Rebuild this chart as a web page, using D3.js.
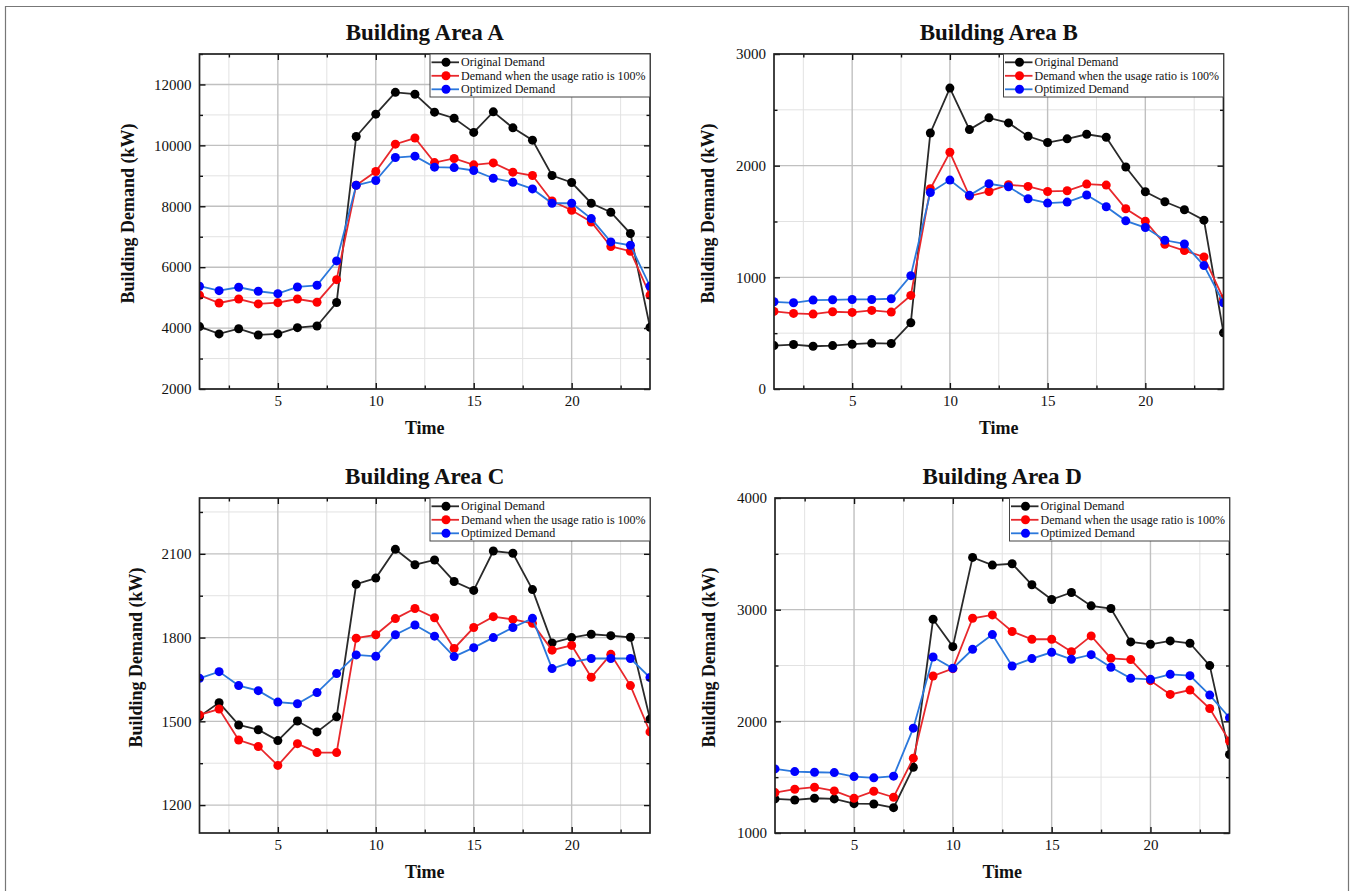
<!DOCTYPE html>
<html>
<head>
<meta charset="utf-8">
<script src="https://d3js.org/d3.v7.min.js"></script>
<style>
  body { margin: 0; background: #fff; }
  svg text { font-family: "Times New Roman", "Liberation Serif", serif; fill: #111; }
  .title { font-size: 23px; font-weight: bold; }
  .axisLabel { font-size: 18px; font-weight: bold; }
  .tick text { font-size: 15px; }
  .legendText { font-size: 12px; }
</style>
</head>
<body>
<script>
// hours on the x axis
var hours = [1,2,3,4,5,6,7,8,9,10,11,12,13,14,15,16,17,18,19,20,21,22,23,24];
var xMajorTicks = [5, 10, 15, 20];
var xMinorTicks = [2.5, 7.5, 12.5, 17.5, 22.5];

var seriesNames = ["Original Demand", "Demand when the usage ratio is 100%", "Optimized Demand"];

// Building Area A
var areaA_original = [4050, 3810, 3980, 3775, 3810, 4015, 4070, 4840, 10290, 11025, 11740, 11680, 11090, 10890, 10425, 11100, 10575, 10170, 9010, 8780, 8100, 7805, 7105, 4025];
var areaA_full     = [5080, 4825, 4955, 4795, 4835, 4955, 4850, 5590, 8690, 9140, 10040, 10240, 9435, 9570, 9360, 9425, 9120, 9010, 8175, 7870, 7485, 6680, 6525, 5080];
var areaA_opt      = [5375, 5230, 5340, 5210, 5130, 5350, 5405, 6205, 8690, 8845, 9600, 9645, 9285, 9270, 9175, 8920, 8790, 8570, 8100, 8100, 7595, 6830, 6720, 5375];
var areaA_yMajor = [2000, 4000, 6000, 8000, 10000, 12000];
var areaA_yMinor = [3000, 5000, 7000, 9000, 11000, 13000];

// Building Area B
var areaB_original = [389, 398, 383, 389, 401, 410, 407, 593, 2293, 2695, 2323, 2428, 2383, 2263, 2207, 2240, 2281, 2254, 1988, 1766, 1677, 1605, 1512, 503];
var areaB_full     = [695, 677, 671, 692, 686, 704, 689, 838, 1793, 2120, 1728, 1769, 1829, 1814, 1769, 1775, 1835, 1826, 1614, 1503, 1296, 1240, 1183, 808];
var areaB_opt      = [781, 772, 796, 799, 802, 802, 808, 1015, 1760, 1871, 1734, 1838, 1811, 1704, 1665, 1674, 1737, 1632, 1506, 1446, 1332, 1299, 1105, 772];
var areaB_yMajor = [0, 1000, 2000, 3000];
var areaB_yMinor = [500, 1500, 2500];

// Building Area C
var areaC_original = [1517, 1567, 1487, 1470, 1431, 1501, 1462, 1516, 1991, 2013, 2116, 2061, 2078, 2001, 1969, 2110, 2102, 1972, 1781, 1800, 1812, 1807, 1801, 1508];
var areaC_full     = [1523, 1544, 1433, 1410, 1342, 1420, 1388, 1388, 1798, 1810, 1868, 1904, 1871, 1761, 1836, 1875, 1865, 1851, 1755, 1772, 1658, 1740, 1628, 1462];
var areaC_opt      = [1654, 1678, 1628, 1610, 1569, 1563, 1603, 1671, 1738, 1733, 1810, 1845, 1805, 1732, 1764, 1800, 1836, 1869, 1689, 1712, 1725, 1725, 1725, 1657];
var areaC_yMajor = [1200, 1500, 1800, 2100];
var areaC_yMinor = [1350, 1650, 1950, 2250];

// Building Area D
var areaD_original = [1305, 1296, 1311, 1305, 1263, 1260, 1227, 1589, 2914, 2669, 3468, 3399, 3411, 3223, 3091, 3154, 3034, 3010, 2711, 2690, 2720, 2699, 2499, 1703];
var areaD_full     = [1362, 1392, 1410, 1377, 1311, 1374, 1320, 1670, 2406, 2472, 2923, 2953, 2804, 2735, 2735, 2624, 2765, 2564, 2553, 2364, 2241, 2280, 2115, 1823];
var areaD_opt      = [1574, 1550, 1544, 1541, 1505, 1494, 1509, 1939, 2576, 2475, 2645, 2777, 2496, 2562, 2618, 2555, 2597, 2484, 2385, 2376, 2421, 2409, 2235, 2032];
var areaD_yMajor = [1000, 2000, 3000, 4000];
var areaD_yMinor = [1500, 2500, 3500];

var lineColors = ["#2a2a2a", "#e8282c", "#2b78dc"];
var dotColors = ["#000000", "#ff0000", "#0000ff"];

var panels = [
  {id: "A", title: "Building Area A", series: [areaA_original, areaA_full, areaA_opt], yDomain: [2000, 13000],
   yMajor: areaA_yMajor, yMinor: areaA_yMinor, left: 199.5, right: 650, top: 54, bottom: 389, yLabelX: 128},
  {id: "B", title: "Building Area B", series: [areaB_original, areaB_full, areaB_opt], yDomain: [0, 3000],
   yMajor: areaB_yMajor, yMinor: areaB_yMinor, left: 774, right: 1223.5, top: 54, bottom: 389, yLabelX: 708},
  {id: "C", title: "Building Area C", series: [areaC_original, areaC_full, areaC_opt], yDomain: [1100, 2300],
   yMajor: areaC_yMajor, yMinor: areaC_yMinor, left: 199.5, right: 650, top: 498, bottom: 833, yLabelX: 136},
  {id: "D", title: "Building Area D", series: [areaD_original, areaD_full, areaD_opt], yDomain: [1000, 4000],
   yMajor: areaD_yMajor, yMinor: areaD_yMinor, left: 775, right: 1229.5, top: 498, bottom: 833, yLabelX: 709}
];

var svg = d3.select("body").append("svg")
    .attr("width", 1352)
    .attr("height", 891);

svg.append("rect")
    .attr("width", 1352).attr("height", 891)
    .attr("fill", "#fff");

// thin outer frame of the figure
svg.append("path")
    .attr("d", "M5.5,900V6.5H1348.5V900")
    .attr("fill", "none")
    .attr("stroke", "#777")
    .attr("stroke-width", 1.2);

panels.forEach(function(p) {
  var w = p.right - p.left, h = p.bottom - p.top;
  var g = svg.append("g").attr("transform", "translate(" + p.left + "," + p.top + ")");

  var x = d3.scaleLinear().domain([1, 24]).range([0, w]);
  var y = d3.scaleLinear().domain(p.yDomain).range([h, 0]);

  // grid: minor then major
  g.append("g").selectAll("line").data(xMinorTicks).join("line")
      .attr("x1", d => x(d)).attr("x2", d => x(d)).attr("y1", 0).attr("y2", h)
      .attr("stroke", "#e2e2e2").attr("stroke-width", 1);
  g.append("g").selectAll("line").data(p.yMinor).join("line")
      .attr("y1", d => y(d)).attr("y2", d => y(d)).attr("x1", 0).attr("x2", w)
      .attr("stroke", "#e2e2e2").attr("stroke-width", 1);
  g.append("g").selectAll("line").data(xMajorTicks).join("line")
      .attr("x1", d => x(d)).attr("x2", d => x(d)).attr("y1", 0).attr("y2", h)
      .attr("stroke", "#c0c0c0").attr("stroke-width", 1.4);
  g.append("g").selectAll("line").data(p.yMajor).join("line")
      .attr("y1", d => y(d)).attr("y2", d => y(d)).attr("x1", 0).attr("x2", w)
      .attr("stroke", "#c0c0c0").attr("stroke-width", 1.4);

  // series
  g.append("clipPath").attr("id", "clip" + p.id)
    .append("rect").attr("width", w).attr("height", h);
  var plot = g.append("g").attr("clip-path", "url(#clip" + p.id + ")");
  var line = d3.line().x((d, i) => x(hours[i])).y(d => y(d));

  p.series.forEach(function(vals, k) {
    plot.append("path")
        .datum(vals)
        .attr("d", line)
        .attr("fill", "none")
        .attr("stroke", lineColors[k])
        .attr("stroke-width", 1.8);
    plot.append("g").selectAll("circle").data(vals).join("circle")
        .attr("cx", (d, i) => x(hours[i]))
        .attr("cy", d => y(d))
        .attr("r", 4.5)
        .attr("fill", dotColors[k]);
  });

  // axes with inward ticks on all four sides
  function styleAxis(sel) {
    sel.select(".domain").remove();
    sel.selectAll(".tick line").attr("stroke", "#111").attr("stroke-width", 1.4);
  }
  g.append("g").attr("transform", "translate(0," + h + ")")
      .call(d3.axisBottom(x).tickValues(xMajorTicks).tickSize(-6).tickPadding(6).tickFormat(d3.format("d")))
      .call(styleAxis);
  g.append("g").attr("transform", "translate(0," + h + ")")
      .call(d3.axisBottom(x).tickValues(xMinorTicks).tickSize(-3.5).tickFormat(""))
      .call(styleAxis);
  g.append("g")
      .call(d3.axisTop(x).tickValues(xMajorTicks).tickSize(-6).tickFormat(""))
      .call(styleAxis);
  g.append("g")
      .call(d3.axisTop(x).tickValues(xMinorTicks).tickSize(-3.5).tickFormat(""))
      .call(styleAxis);
  g.append("g")
      .call(d3.axisLeft(y).tickValues(p.yMajor).tickSize(-6).tickPadding(8).tickFormat(d3.format("d")))
      .call(styleAxis);
  g.append("g")
      .call(d3.axisLeft(y).tickValues(p.yMinor).tickSize(-3.5).tickFormat(""))
      .call(styleAxis);
  g.append("g").attr("transform", "translate(" + w + ",0)")
      .call(d3.axisRight(y).tickValues(p.yMajor).tickSize(-6).tickFormat(""))
      .call(styleAxis);
  g.append("g").attr("transform", "translate(" + w + ",0)")
      .call(d3.axisRight(y).tickValues(p.yMinor).tickSize(-3.5).tickFormat(""))
      .call(styleAxis);

  g.selectAll(".tick text")
      .attr("font-family", null).attr("font-size", null)
      .attr("fill", "#111");

  // frame
  g.append("rect")
      .attr("width", w).attr("height", h)
      .attr("fill", "none")
      .attr("stroke", "#222")
      .attr("stroke-width", 1.7);

  // legend
  var lw = 220, lh = 43;
  var legend = g.append("g").attr("transform", "translate(" + (w - lw) + ",0)");
  legend.append("rect")
      .attr("width", lw).attr("height", lh)
      .attr("fill", "#fff")
      .attr("stroke", "#444")
      .attr("stroke-width", 1);
  seriesNames.forEach(function(name, k) {
    var ly = 8.3 + k * 13.5;
    legend.append("line")
        .attr("x1", 1.5).attr("x2", 29).attr("y1", ly).attr("y2", ly)
        .attr("stroke", lineColors[k]).attr("stroke-width", 1.8);
    legend.append("circle")
        .attr("cx", 16).attr("cy", ly).attr("r", 4.5)
        .attr("fill", dotColors[k]);
    legend.append("text")
        .attr("class", "legendText")
        .attr("x", 31).attr("y", ly + 4)
        .text(name);
  });

  // titles
  svg.append("text")
      .attr("class", "title")
      .attr("x", p.left + w / 2).attr("y", p.top - 14)
      .attr("text-anchor", "middle")
      .text(p.title);
  svg.append("text")
      .attr("class", "axisLabel")
      .attr("text-anchor", "middle")
      .attr("transform", "translate(" + (p.yLabelX + 6) + "," + (p.top + h / 2 - 8) + ") rotate(-90)")
      .text("Building Demand (kW)");
  svg.append("text")
      .attr("class", "axisLabel")
      .attr("x", p.left + w / 2).attr("y", p.bottom + 45)
      .attr("text-anchor", "middle")
      .text("Time");
});
</script>
</body>
</html>
